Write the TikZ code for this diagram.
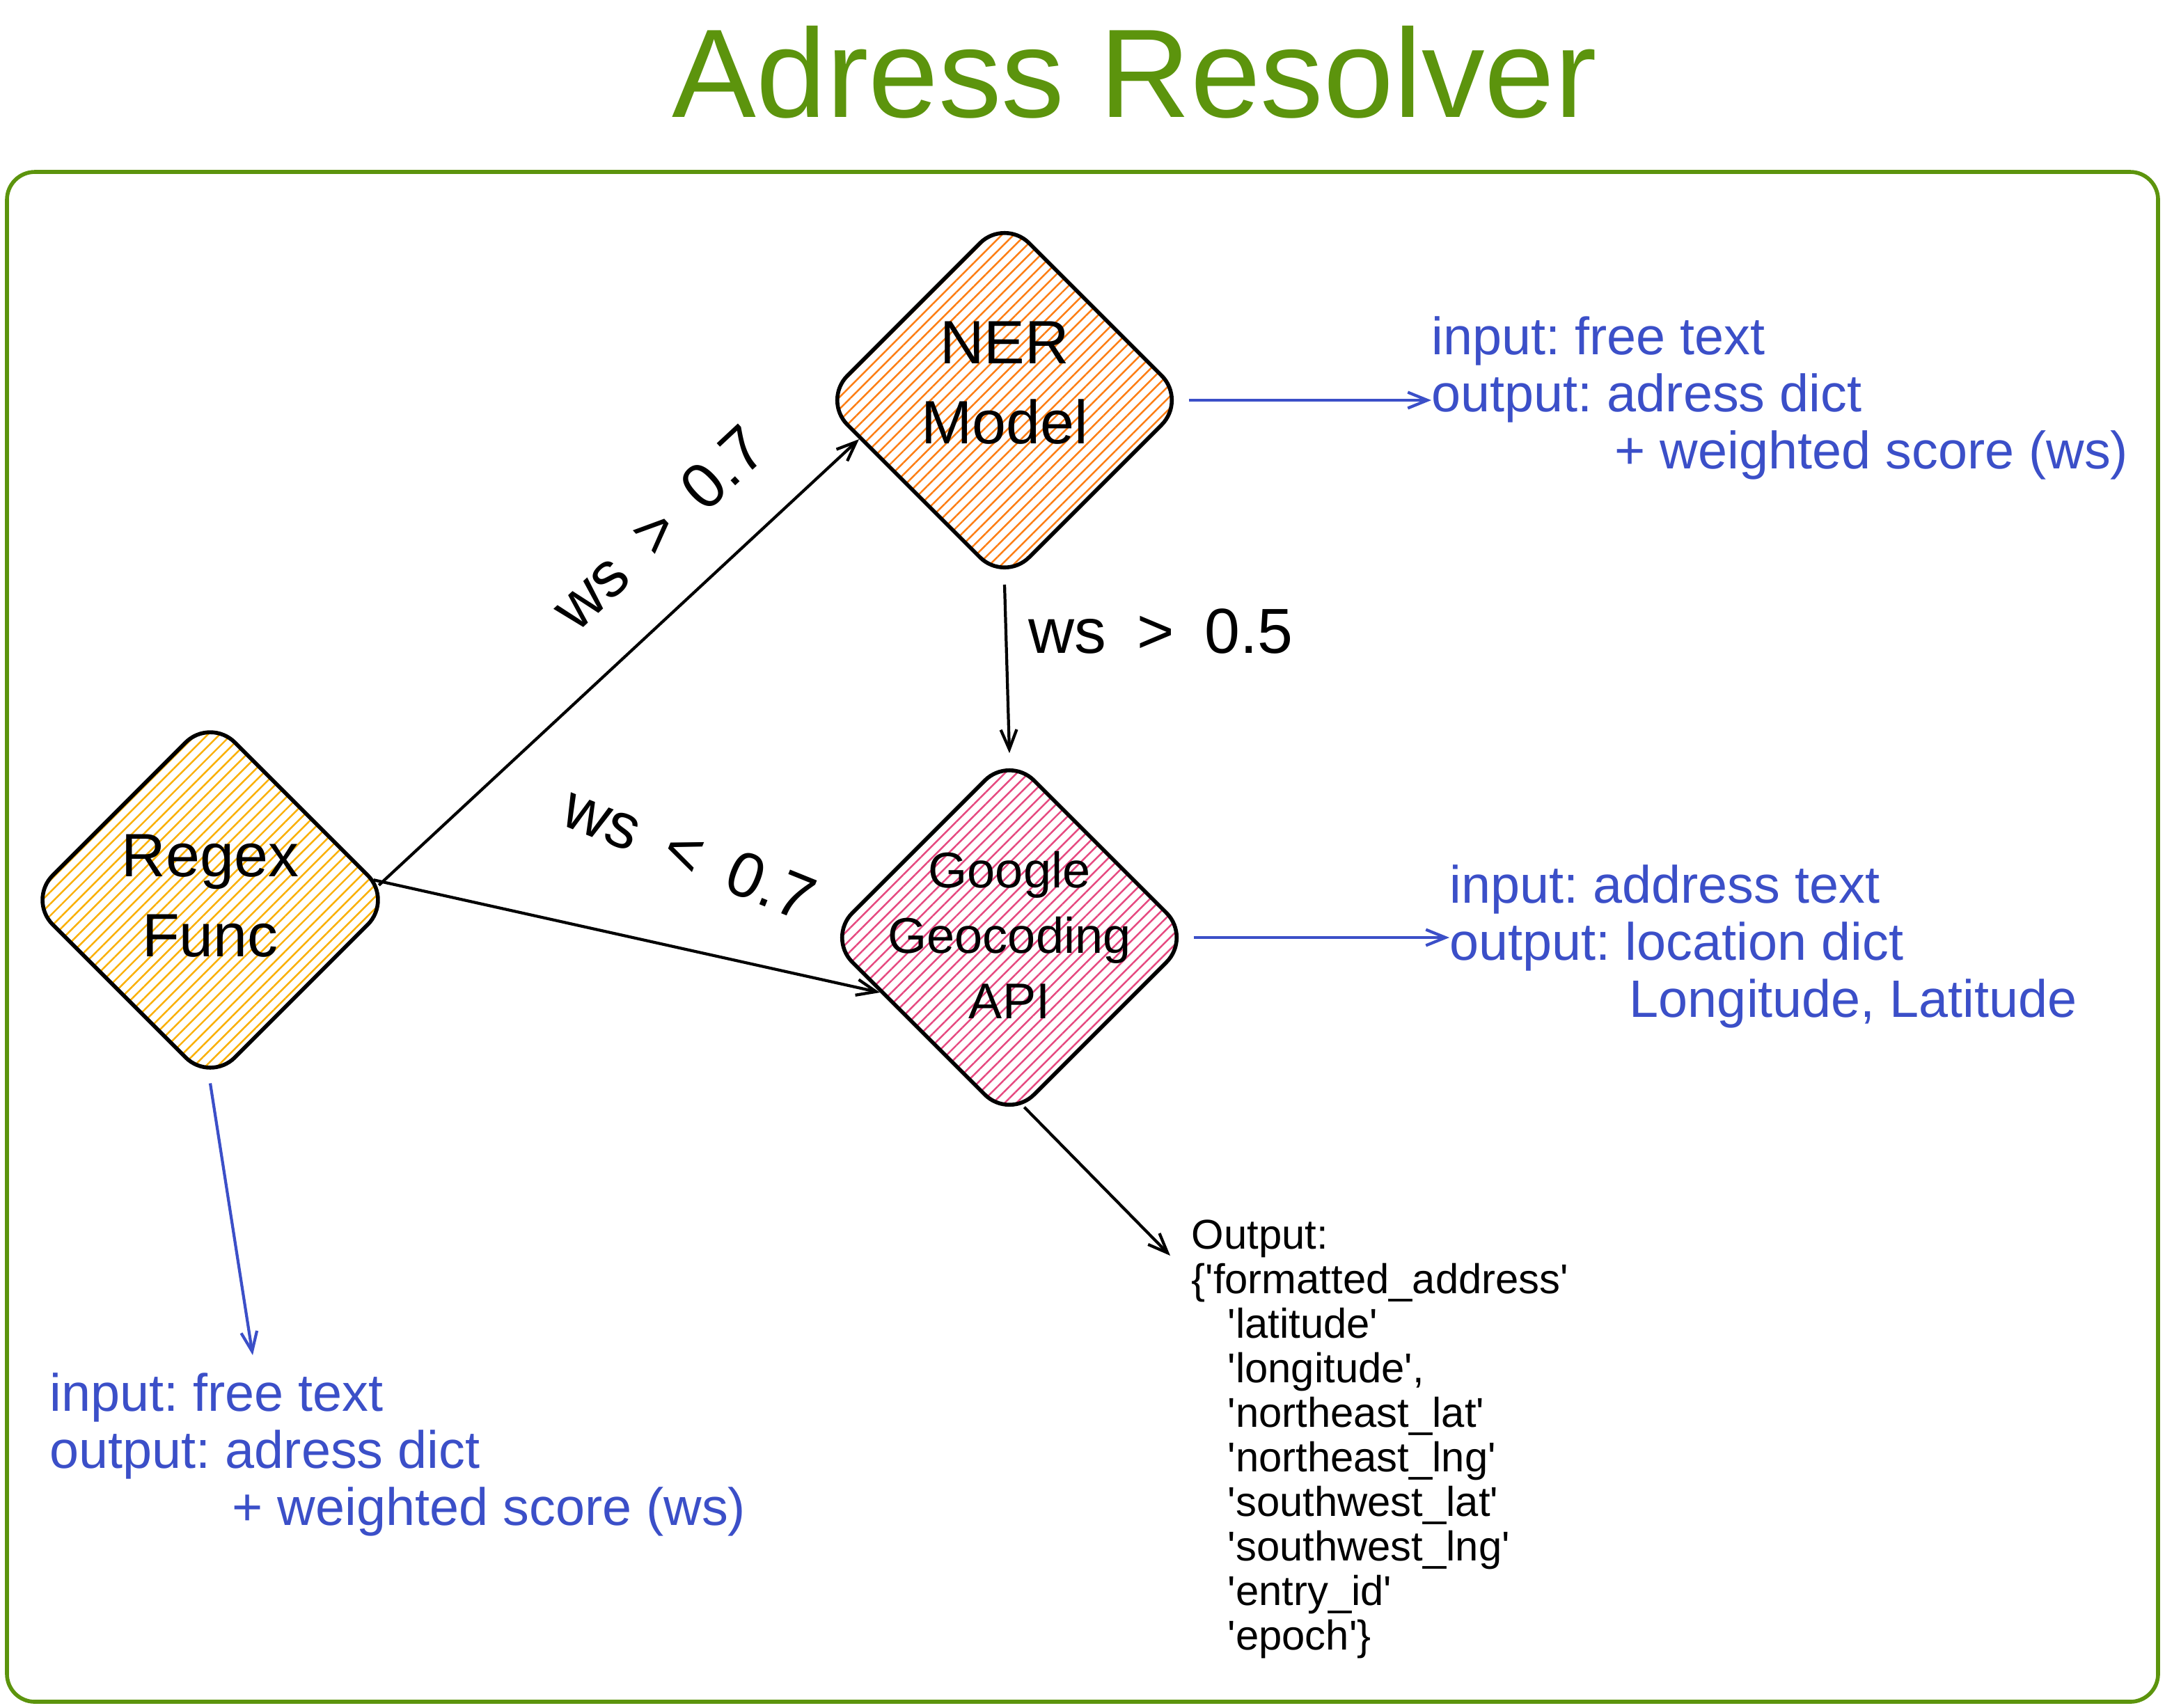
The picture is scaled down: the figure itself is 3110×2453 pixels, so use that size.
\documentclass[tikz,border=0pt]{standalone}
\usepackage{fontspec}
\setmainfont{Liberation Sans}
\newfontfamily\codefont{Liberation Sans}
\usetikzlibrary{shapes.geometric,patterns.meta,arrows.meta}
\definecolor{framegreen}{HTML}{5C940D}
\definecolor{noteblue}{HTML}{3B4FC8}
\definecolor{nerorange}{HTML}{FD7E14}
\definecolor{regexyellow}{HTML}{FAB005}
\definecolor{geopink}{HTML}{E64980}
\frenchspacing
\newcommand{\gap}{\hspace{0.2em}}
\tikzset{
  decision/.style={diamond, draw=black, line width=1.6pt, rounded corners=5mm,
    minimum width=5.24cm, minimum height=5.24cm, inner sep=0pt,
    pattern={Lines[angle=45,distance=3.4pt,line width=0.7pt]}},
  boxtext/.style={align=center, inner sep=0pt, font=\fontsize{25}{32.7}\selectfont},
  flow/.style={line width=1.2pt, -{Straight Barb[length=8pt,width=6.5pt]}},
  noteflow/.style={flow, draw=noteblue},
  note/.style={text=noteblue, align=left, inner sep=0pt, font=\fontsize{21.5}{23.3}\selectfont},
  cond/.style={inner sep=0pt, font=\fontsize{26}{30}\selectfont}
}
\begin{document}
\begin{tikzpicture}
[x=0.01cm, y=-0.01cm]
\useasboundingbox (0,0) rectangle (3110,2453);
\draw[framegreen, line width=1.6pt, rounded corners=4mm] (10,247) rectangle (3100,2445);
\node[text=framegreen, anchor=base, inner sep=0pt, font=\fontsize{51.5}{60}\selectfont] (title) at (1630,168) {Adress Resolver};

\node[decision, pattern color=regexyellow] (regex) at (302,1293) {};
\node[decision, pattern color=nerorange] (ner) at (1443,575) {};
\node[decision, pattern color=geopink] (google) at (1450,1347) {};
\node[boxtext] (regextext) at ([yshift=0.06cm]regex.center) {Regex\\Func};
\node[boxtext] (nertext) at ([yshift=0.25cm]ner.center) {NER\\Model};
\node[boxtext, font=\fontsize{20.5}{26.7}\selectfont] (googletext) at ([yshift=0.04cm]google.center) {Google\\Geocoding\\API};

\node[cond, rotate=43] (highner) at (946,758) {ws \gap> \gap0.7};
\node[cond, rotate=-22] (lowgeo) at (990,1225) {ws \gap< \gap0.7};
\node[cond, anchor=base west] (midgeo) at (1477,938) {ws \gap> \gap0.5};

\node[note, anchor=west] (nerio) at (2056,572) {input: free text\\output: adress dict\\\hspace*{74.8pt}+ weighted score (ws)};
\node[note, anchor=west] (geoio) at (2082,1360) {input: address text\\output: location dict\\\hspace*{73.4pt}Longitude, Latitude};
\node[note, anchor=west] (regexio) at (71,2090) {input: free text\\output: adress dict\\\hspace*{74.5pt}+ weighted score (ws)};
\node[anchor=west, align=left, inner sep=0pt, font=\codefont\fontsize{17}{18.2}\selectfont] (outtxt) at (1711,2068) {Output:\\\{'formatted\_address'\\
\hspace*{14.8pt}'latitude'\\\hspace*{14.8pt}'longitude',\\\hspace*{14.8pt}'northeast\_lat'\\\hspace*{14.8pt}'northeast\_lng'\\
\hspace*{14.8pt}'southwest\_lat'\\\hspace*{14.8pt}'southwest\_lng'\\\hspace*{14.8pt}'entry\_id'\\\hspace*{14.8pt}'epoch'\}};

\coordinate (regexin) at (363,1947);
\coordinate (outin) at (1681,1804);

\draw[flow] (regex.5) -- (ner.195);
\draw[flow] (regex.7) -- (google.203);
\draw[flow] (ner.south) -- (google.north);
\draw[flow] (google.-85) -- (outin);
\draw[noteflow] (ner.east) -- (ner.east -| nerio.west);
\draw[noteflow] (google.east) -- (google.east -| geoio.west);
\draw[noteflow] (regex.south) -- (regexin);
\end{tikzpicture}
\end{document}
